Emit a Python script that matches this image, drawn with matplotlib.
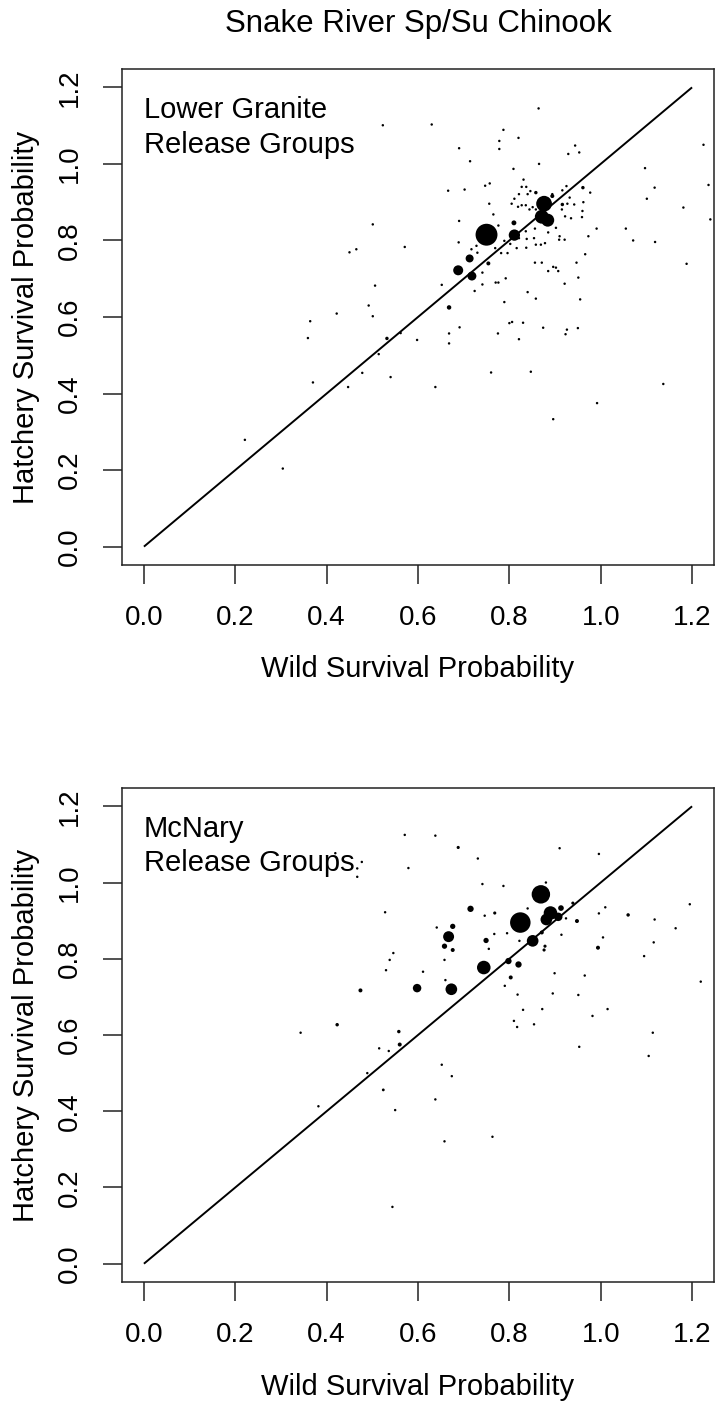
import numpy as np
import matplotlib
matplotlib.use("Agg")
import matplotlib.pyplot as plt

plt.rcParams["font.family"] = ["Liberation Sans", "DejaVu Sans"]

TITLE = "Snake River Sp/Su Chinook"
XLABEL = "Wild Survival Probability"
YLABEL = "Hatchery Survival Probability"
TICKS = [0.0, 0.2, 0.4, 0.6, 0.8, 1.0, 1.2]
TICK_LABELS = ["0.0", "0.2", "0.4", "0.6", "0.8", "1.0", "1.2"]

# ---- Lower Granite release groups: wild survival, hatchery survival, relative group size
lgr_wild = [
    0.750, 0.688, 0.713, 0.718, 0.668, 0.811, 0.810, 0.876, 0.871, 0.884,
    0.894, 0.754, 0.532, 0.916, 0.858, 0.961,
    0.630, 0.787, 0.778, 0.820, 0.778, 0.690, 0.714, 0.944, 0.953, 0.929,
    0.865, 0.809, 0.666, 0.702, 0.747, 0.757, 0.831, 0.827, 0.837, 0.821,
    0.811, 0.805, 0.819, 0.827, 0.836, 0.844, 0.851, 0.858, 0.846, 0.840,
    0.756, 0.765, 0.690, 0.776, 0.728, 0.717, 0.730, 0.689, 0.571, 0.769,
    0.782, 0.796, 0.789, 0.802, 0.816, 0.821, 0.836, 0.838, 0.837, 0.854,
    0.858, 0.869, 0.878, 0.856, 0.885, 0.741, 0.724, 0.741, 0.770, 0.776,
    0.792, 0.652, 0.789, 0.840, 0.858, 0.856, 0.871, 0.885, 0.896, 0.902,
    0.907, 0.921, 0.947, 0.951, 0.955, 0.966, 0.973, 0.991, 0.910, 0.909,
    0.921, 0.902, 0.922, 0.935, 0.959, 0.960, 0.915, 0.927, 0.932, 0.942,
    0.962, 0.977, 0.916, 0.925, 0.894, 0.865,
    0.864, 0.523, 1.225, 1.097, 1.118, 1.236, 1.101, 1.181, 1.240, 1.055,
    1.071, 1.119, 1.188, 0.501, 0.450, 0.465, 0.506, 0.492, 0.501, 0.422,
    0.364, 0.359, 0.370, 0.221, 0.304, 0.447, 0.478, 0.514, 0.540, 0.562,
    0.598, 0.638, 0.668, 0.668, 0.691, 0.775, 0.800, 0.806, 0.830, 0.821,
    0.760, 0.847, 0.874, 0.926, 0.923, 0.950, 0.896, 0.992, 1.137,
]
lgr_hatch = [
    0.815, 0.722, 0.753, 0.707, 0.625, 0.814, 0.846, 0.896, 0.862, 0.853,
    0.916, 0.740, 0.544, 0.894, 0.925, 0.938,
    1.103, 1.089, 1.060, 1.068, 1.039, 1.041, 1.007, 1.048, 1.030, 1.026,
    1.000, 0.987, 0.930, 0.933, 0.943, 0.949, 0.959, 0.940, 0.940, 0.921,
    0.909, 0.896, 0.888, 0.892, 0.892, 0.881, 0.887, 0.881, 0.929, 0.921,
    0.896, 0.868, 0.851, 0.839, 0.786, 0.777, 0.768, 0.795, 0.783, 0.780,
    0.767, 0.767, 0.799, 0.791, 0.780, 0.806, 0.824, 0.804, 0.781, 0.806,
    0.789, 0.789, 0.793, 0.831, 0.821, 0.716, 0.668, 0.685, 0.690, 0.690,
    0.701, 0.684, 0.639, 0.665, 0.648, 0.742, 0.742, 0.720, 0.731, 0.729,
    0.720, 0.687, 0.742, 0.703, 0.646, 0.764, 0.811, 0.831, 0.811, 0.802,
    0.802, 0.833, 0.863, 0.858, 0.861, 0.877, 0.881, 0.896, 0.912, 0.894,
    0.900, 0.925, 0.931, 0.942, 0.921, 0.899,
    1.145, 1.101, 1.050, 0.989, 0.938, 0.945, 0.909, 0.886, 0.855, 0.831,
    0.800, 0.796, 0.739, 0.842, 0.769, 0.777, 0.682, 0.630, 0.602, 0.609,
    0.589, 0.545, 0.429, 0.279, 0.204, 0.417, 0.454, 0.503, 0.443, 0.558,
    0.540, 0.417, 0.557, 0.531, 0.573, 0.557, 0.584, 0.587, 0.585, 0.542,
    0.455, 0.457, 0.572, 0.567, 0.555, 0.571, 0.333, 0.375, 0.425,
]
lgr_size = [120, 25, 16, 20, 5, 32, 6, 62, 48, 42, 4, 4, 3, 3, 3, 3] + [1.5] * (len(lgr_wild) - 16)

# ---- McNary release groups
mcn_wild = [
    0.869, 0.824, 0.890, 0.881, 0.907, 0.913, 0.851, 0.744, 0.673, 0.667,
    0.598, 0.715, 0.676, 0.658, 0.676, 0.749, 0.798, 0.820, 0.803, 0.871,
    0.878, 0.876, 0.948, 0.994, 1.060, 0.474, 0.423, 0.558, 0.560, 0.524,
    0.768, 0.939, 0.688,
    0.571, 0.638, 0.731, 0.579, 0.467, 0.419, 0.477, 0.467, 0.910, 0.996,
    0.741, 0.787, 0.880, 0.528, 0.746, 0.840, 1.010, 0.996, 1.195, 1.118,
    1.164, 1.116, 1.005, 1.095, 1.219, 1.114, 1.105, 0.953, 1.015, 0.982,
    0.951, 0.965, 0.899, 0.895, 0.872, 0.830, 0.818, 0.790, 0.810, 0.817,
    0.854, 0.914, 0.924, 0.795, 0.767, 0.755, 0.822, 0.641, 0.658, 0.660,
    0.611, 0.546, 0.538, 0.530, 0.343, 0.515, 0.536, 0.489, 0.382, 0.550,
    0.638, 0.652, 0.674, 0.658, 0.763, 0.544,
]
mcn_hatch = [
    0.969, 0.895, 0.920, 0.903, 0.910, 0.933, 0.847, 0.777, 0.720, 0.858,
    0.723, 0.931, 0.885, 0.833, 0.823, 0.848, 0.794, 0.785, 0.751, 0.869,
    0.833, 0.823, 0.899, 0.829, 0.915, 0.717, 0.627, 0.609, 0.575, 0.456,
    0.920, 0.946, 1.092,
    1.125, 1.123, 1.063, 1.038, 1.037, 1.077, 1.054, 1.015, 1.090, 1.075,
    0.996, 0.991, 1.000, 0.922, 0.913, 0.932, 0.935, 0.919, 0.943, 0.903,
    0.880, 0.843, 0.856, 0.807, 0.740, 0.606, 0.545, 0.569, 0.668, 0.650,
    0.705, 0.756, 0.762, 0.709, 0.668, 0.666, 0.706, 0.729, 0.637, 0.621,
    0.628, 0.863, 0.906, 0.867, 0.865, 0.826, 0.847, 0.882, 0.797, 0.744,
    0.766, 0.815, 0.797, 0.770, 0.606, 0.565, 0.558, 0.500, 0.413, 0.403,
    0.431, 0.522, 0.492, 0.321, 0.333, 0.149,
]
mcn_size = [85, 105, 46, 34, 18, 8, 34, 46, 34, 30,
            18, 10, 7, 7, 4, 7, 10, 10, 4, 4,
            2.5, 2.5, 4, 4, 3, 4, 3, 3, 4, 2,
            2.5, 2.5, 2.5] + [1.5] * (len(mcn_wild) - 33)

W, H, DPI = 716, 1407, 100
fig = plt.figure(figsize=(W / DPI, H / DPI), dpi=DPI)


def px_rect(left, top, right, bottom):
    return [left / W, 1 - bottom / H, (right - left) / W, (bottom - top) / H]


FS = 21          # axis titles and panel notes
FS_TICK = 20     # tick labels
LIM = (-0.048, 1.248)


def panel(rect, wild, hatch, size, lines, xlab_y):
    ax = fig.add_axes(rect)
    ax.set_xlim(*LIM)
    ax.set_ylim(*LIM)
    ax.plot([0, 1.2], [0, 1.2], color="black", lw=1.4, solid_capstyle="butt", zorder=2)
    d_pt = 0.72 * 2 * np.sqrt(np.asarray(size, dtype=float))
    ax.scatter(wild, hatch, s=d_pt ** 2, c="black", linewidths=0, zorder=3)
    ax.set_xticks(TICKS)
    ax.set_xticklabels(TICK_LABELS)
    ax.set_yticks(TICKS)
    ax.set_yticklabels(TICK_LABELS, rotation=90, va="center")
    ax.tick_params(direction="out", length=13.5, width=1.1, labelsize=FS_TICK, pad=15,
                   color="#222222")
    for sp in ax.spines.values():
        sp.set_linewidth(1.1)
        sp.set_color("#222222")
    ax.text(0.0, 1.14, lines[0], fontsize=FS, ha="left", va="center")
    ax.text(0.0, 1.05, lines[1], fontsize=FS, ha="left", va="center")
    cy = (rect[1] + rect[3] / 2)
    fig.text(26 / W, cy, YLABEL, rotation=90, ha="center", va="center", fontsize=FS)
    fig.text(418 / W, 1 - xlab_y / H, XLABEL, ha="center", va="center", fontsize=FS)
    return ax


panel(px_rect(122, 69, 714, 565), lgr_wild, lgr_hatch, lgr_size,
      ("Lower Granite", "Release Groups"), 669)
panel(px_rect(122, 788, 714, 1282), mcn_wild, mcn_hatch, mcn_size,
      ("McNary", "Release Groups"), 1387)

fig.text(418 / W, 1 - 24 / H, TITLE, ha="center", va="center", fontsize=22.5)

fig.savefig("out.png", dpi=DPI)
